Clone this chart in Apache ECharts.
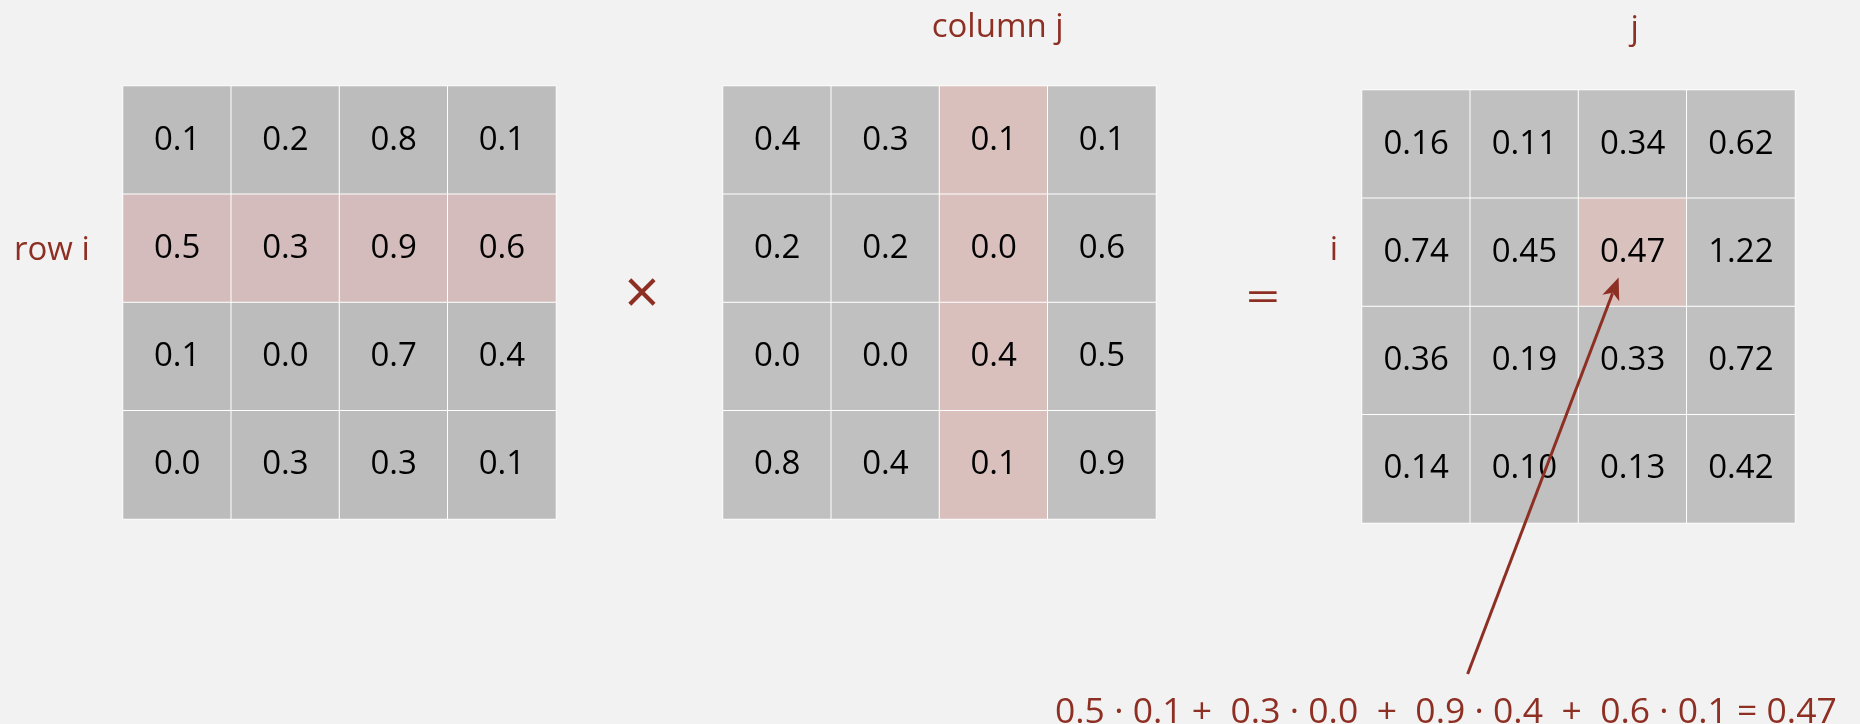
<!DOCTYPE html>
<html>
<head>
<meta charset="utf-8">
<title>matrix multiplication</title>
<script src="https://cdn.jsdelivr.net/npm/echarts@6/dist/echarts.min.js"></script>
<style>
  html, body { margin: 0; padding: 0; background: #f2f2f2; }
  #main { width: 1860px; height: 724px; }
</style>
</head>
<body>
<div id="main"></div>
<script type="text/javascript">
    // matrix values, row by row
    var matA = [
        [0.1, 0.2, 0.8, 0.1],
        [0.5, 0.3, 0.9, 0.6],
        [0.1, 0.0, 0.7, 0.4],
        [0.0, 0.3, 0.3, 0.1]
    ];
    var matB = [
        [0.4, 0.3, 0.1, 0.1],
        [0.2, 0.2, 0.0, 0.6],
        [0.0, 0.0, 0.4, 0.5],
        [0.8, 0.4, 0.1, 0.9]
    ];
    var matC = [
        [0.16, 0.11, 0.34, 0.62],
        [0.74, 0.45, 0.47, 1.22],
        [0.36, 0.19, 0.33, 0.72],
        [0.14, 0.10, 0.13, 0.42]
    ];
    var idx = ['0', '1', '2', '3'];
    var rowI = 1;
    var colJ = 2;
    var sumText = '0.5 \u00b7 0.1 +  0.3 \u00b7 0.0  +  0.9 \u00b7 0.4  +  0.6 \u00b7 0.1 = 0.47';

    var red = '#8e2f24';
    var font = 'Open Sans';

    // turn a matrix into heatmap items, tinting the highlighted cells
    function cells(mat, isHot, gray, pink) {
        var out = [];
        for (var r = 0; r < mat.length; r++) {
            for (var c = 0; c < mat[r].length; c++) {
                out.push({
                    value: [c, r, mat[r][c]],
                    itemStyle: { color: isHot(r, c) ? pink : gray }
                });
            }
        }
        return out;
    }

    function matSeries(k, data, digits) {
        return {
            type: 'heatmap',
            xAxisIndex: k,
            yAxisIndex: k,
            data: data,
            itemStyle: { borderColor: '#ffffff', borderWidth: 1 },
            label: {
                show: true,
                color: '#000',
                fontFamily: font,
                fontSize: 33,
                formatter: function (p) { return p.value[2].toFixed(digits); }
            },
            emphasis: { disabled: true }
        };
    }

    var grids = [
        { left: 123, top: 86, width: 433, height: 433 },
        { left: 723, top: 86, width: 433, height: 433 },
        { left: 1362, top: 90, width: 433, height: 433 }
    ];
    var xAxes = [], yAxes = [];
    for (var g = 0; g < 3; g++) {
        xAxes.push({ type: 'category', gridIndex: g, data: idx, show: false });
        yAxes.push({ type: 'category', gridIndex: g, data: idx, inverse: true, show: false });
    }

    var myChart = echarts.init(document.getElementById('main'));

    var option = {
        backgroundColor: '#f2f2f2',
        animation: false,
        grid: grids,
        xAxis: xAxes,
        yAxis: yAxes,
        series: [
            matSeries(0, cells(matA, function (r, c) { return r === rowI; }, '#bcbcbc', '#d3bcbb'), 1),
            matSeries(1, cells(matB, function (r, c) { return c === colJ; }, '#c0c0c0', '#d9c0bd'), 1),
            matSeries(2, cells(matC, function (r, c) { return r === rowI && c === colJ; }, '#c0c0c0', '#d9c1bd'), 2)
        ]
    };
    myChart.setOption(option);

    // labels and the arrow, placed from the cells' pixel positions
    var aRow = myChart.convertToPixel({ gridIndex: 0 }, [0, rowI]);
    var bCol = myChart.convertToPixel({ gridIndex: 1 }, [colJ, 0]);
    var cCell = myChart.convertToPixel({ gridIndex: 2 }, [colJ, rowI]);

    function label(x, y, text, size, align, sx) {
        return {
            type: 'text',
            x: x, y: y,
            z: 10,
            scaleX: sx || 1,
            style: {
                text: text, fill: red, font: size + 'px "' + font + '"',
                textAlign: align || 'center', textVerticalAlign: 'middle'
            }
        };
    }

    var tip = [cCell[0] - 14, cCell[1] + 25];
    var tail = [tip[0] - 151, 674];
    var ang = Math.atan2(tip[1] - tail[1], tip[0] - tail[0]);
    var hl = 22, hw = 9;
    var base = [tip[0] - hl * Math.cos(ang), tip[1] - hl * Math.sin(ang)];
    var head = [
        tip,
        [base[0] + hw * Math.sin(ang), base[1] - hw * Math.cos(ang)],
        [tip[0] - hl * 0.75 * Math.cos(ang), tip[1] - hl * 0.75 * Math.sin(ang)],
        [base[0] - hw * Math.sin(ang), base[1] + hw * Math.cos(ang)]
    ];

    myChart.setOption({
        graphic: [
            label(14, aRow[1] + 2, 'row i', 33, 'left'),
            label(bCol[0] + 4, 28, 'column j', 33),
            label(cCell[0] + 2, 30, 'j', 33),
            label(1334, cCell[1] - 2, 'i', 33),
            label(642, 296, '\u00d7', 62),
            label(1263, 300, '=', 40, 'center', 1.5),
            {
                type: 'line',
                z: 10,
                shape: { x1: tail[0], y1: tail[1], x2: base[0] + 5 * Math.cos(ang), y2: base[1] + 5 * Math.sin(ang) },
                style: { stroke: red, lineWidth: 3 }
            },
            { type: 'polygon', z: 10, shape: { points: head }, style: { fill: red } },
            {
                type: 'text',
                x: 1055, y: 713,
                z: 10,
                style: {
                    text: sumText, fill: red, font: '35.5px "' + font + '"',
                    textAlign: 'left', textVerticalAlign: 'middle'
                }
            }
        ]
    });
</script>
</body>
</html>
